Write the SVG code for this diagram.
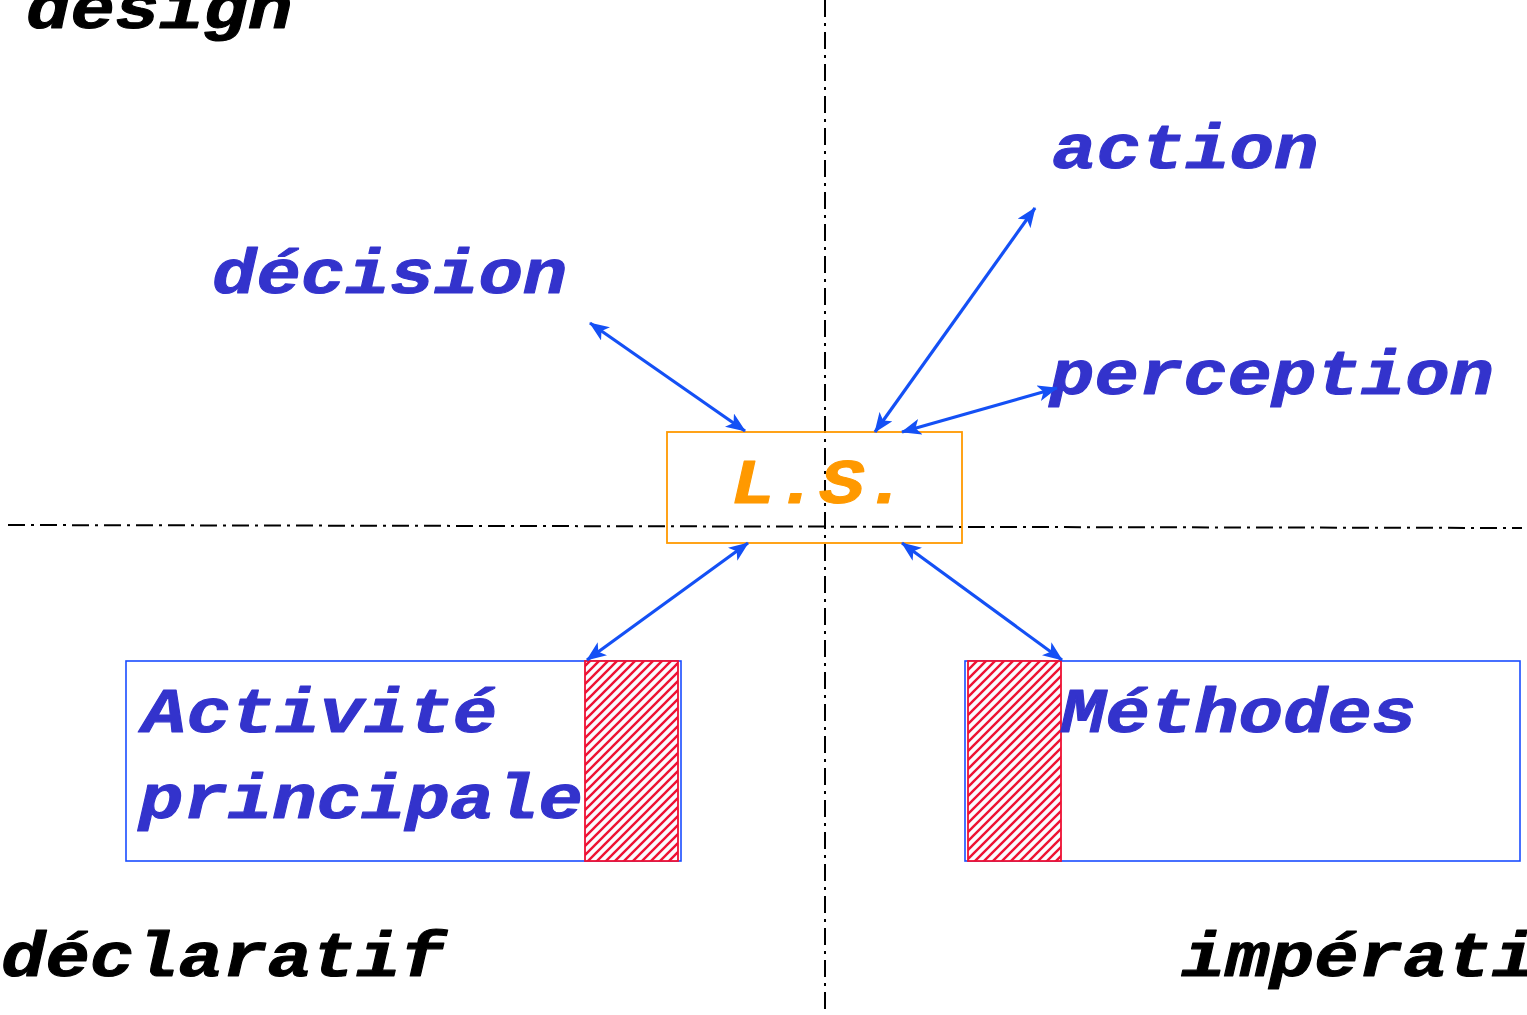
<svg xmlns="http://www.w3.org/2000/svg" width="1527" height="1015" viewBox="0 0 1527 1015">
  <style>
    text { font-family: "Liberation Mono", "Courier New", monospace; font-weight: bold; font-style: italic; font-size: 74px; stroke-width: 1.2; stroke-linejoin: round; }
    .lbl { fill: #3333cc; stroke: #3333cc; }
    .axis-lbl { fill: #000000; stroke: #000000; }
    .ls-lbl { fill: #ff9900; stroke: #ff9900; }
    .axis { stroke: #000000; stroke-width: 2; fill: none; stroke-dasharray: 17 6 3 6; }
    .conn { stroke: #1450f5; stroke-width: 3.2; fill: none; marker-start: url(#head); marker-end: url(#head); }
    .box { fill: none; stroke: #1a4dff; stroke-width: 1.6; }
    .hatch { fill: url(#diag); stroke: #ee1133; stroke-width: 1.8; }
  </style>
  <defs>
    <marker id="head" viewBox="0 0 20 16" refX="19" refY="8" markerWidth="20" markerHeight="16" orient="auto-start-reverse" markerUnits="userSpaceOnUse">
      <path d="M0,0 L20,8 L0,16 L5,8 Z" fill="#1450f5"/>
    </marker>
    <pattern id="diag" patternUnits="userSpaceOnUse" width="9" height="9">
      <rect width="9" height="9" fill="#fbfbff"/>
      <path d="M-2,2 L2,-2 M0,9 L9,0 M7,11 L11,7" stroke="#ee1133" stroke-width="2.4"/>
    </pattern>
  </defs>

  <!-- axes -->
  <g id="axes">
    <line class="axis" x1="825" y1="0" x2="825" y2="1015"/>
    <line class="axis" x1="8" y1="525" x2="1522" y2="528"/>
  </g>

  <!-- axis captions (glyphs squeezed vertically to a typewriter x-height) -->
  <text class="axis-lbl" transform="translate(26 28) scale(1 0.86)">design</text>
  <text class="axis-lbl" transform="translate(1 976) scale(1 0.86)">déclaratif</text>
  <text class="axis-lbl" transform="translate(1181 976) scale(1 0.86)">impératif</text>

  <!-- central node -->
  <g id="ls">
    <rect x="667" y="432" width="295" height="111" fill="none" stroke="#ff9900" stroke-width="1.8"/>
    <text class="ls-lbl" transform="translate(731 503) scale(1 0.86)">L.S.</text>
  </g>

  <g id="decision"><text class="lbl" transform="translate(212 293) scale(1 0.86)">décision</text></g>
  <g id="action"><text class="lbl" transform="translate(1052 168) scale(1 0.86)">action</text></g>
  <g id="perception"><text class="lbl" transform="translate(1050 394) scale(1 0.86)">perception</text></g>

  <g id="activite">
    <rect class="box" x="126" y="661" width="555" height="200"/>
    <text class="lbl" transform="translate(142 732) scale(1 0.86)">Activité</text>
    <text class="lbl" transform="translate(139 818) scale(1 0.86)">principale</text>
    <rect class="hatch" x="585" y="661" width="93" height="200"/>
  </g>

  <g id="methodes">
    <rect class="box" x="965" y="661" width="555" height="200"/>
    <rect class="hatch" x="968" y="661" width="93" height="200"/>
    <text class="lbl" transform="translate(1061 732) scale(1 0.86)">Méthodes</text>
  </g>

  <!-- connectors -->
  <g id="connectors">
    <line class="conn" x1="590" y1="323" x2="745" y2="431"/>
    <line class="conn" x1="1035" y1="208" x2="875" y2="432"/>
    <line class="conn" x1="1057" y1="388" x2="902" y2="432"/>
    <line class="conn" x1="748" y1="543" x2="587" y2="660"/>
    <line class="conn" x1="902" y1="543" x2="1062" y2="660"/>
  </g>
</svg>
